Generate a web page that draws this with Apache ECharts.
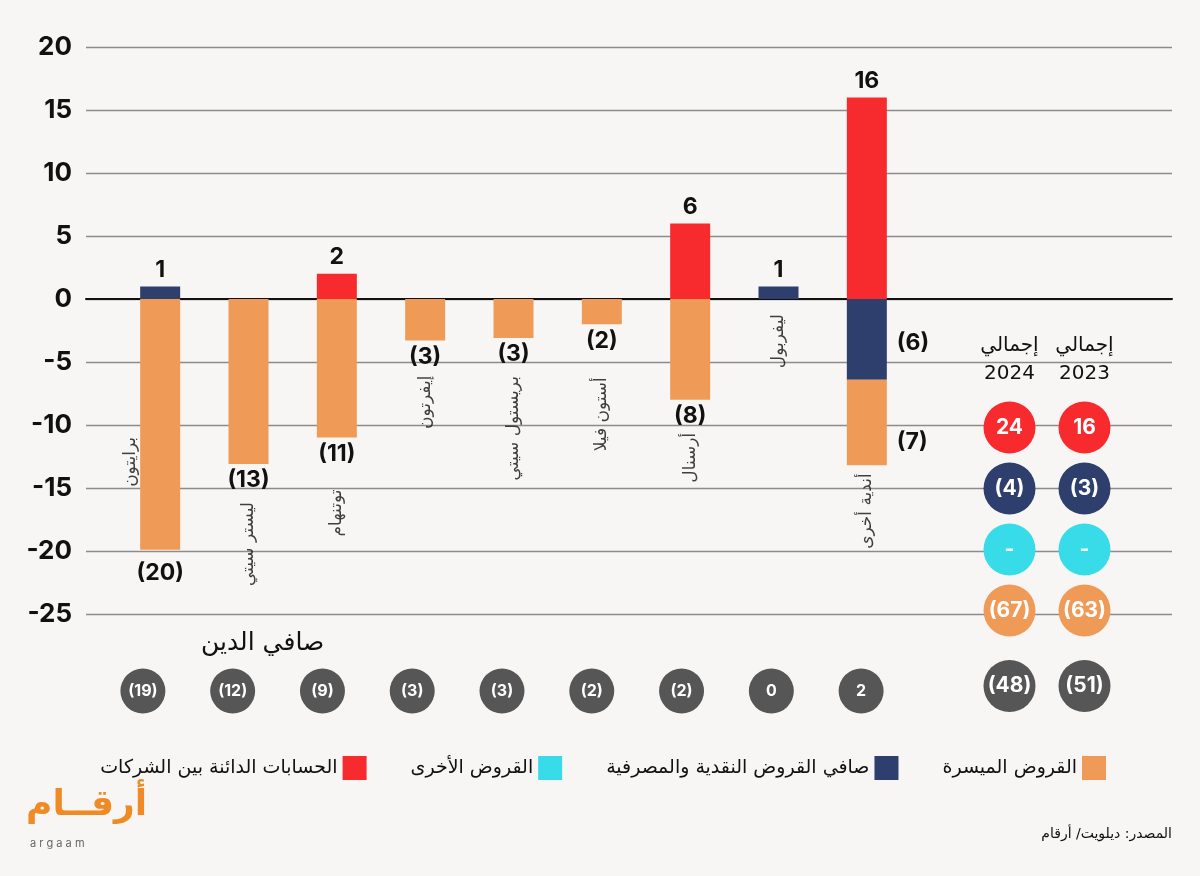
<!DOCTYPE html>
<html lang="ar">
<head>
    <meta charset="UTF-8">
    <title>Premier League clubs - debt breakdown</title>
    <script src="https://cdn.jsdelivr.net/npm/echarts@6/dist/echarts.min.js"></script>
    <style>
        html, body { margin: 0; padding: 0; background: #f8f6f4; }
        #chart { width: 1200px; height: 876px; }
    </style>
</head>
<body>
    <div id="chart"></div>
    <script>
        // clubs, left to right
        const clubs = ['برايتون', 'ليستر سيتي', 'توتنهام', 'إيفرتون', 'بريستول سيتي', 'أستون فيلا', 'أرسنال', 'ليفربول', 'أندية أخرى'];

        // values per club (null = no bar)
        const softLoans = [-19.9, -13.1, -11, -3.3, -3.1, -2, -8, null, -6.8];
        const netBankLoans = [1, null, null, null, null, null, null, 1, -6.4];
        const interCompany = [null, null, 2, null, null, null, 6, null, 16];
        const otherLoans = [null, null, null, null, null, null, null, null, null];

        // net debt row
        const netDebt = [-19, -12, -9, -3, -3, -2, -2, 0, 2];

        // totals: columns and rows (red, navy, cyan, orange)
        const totalYears = ['إجمالي\n2024', 'إجمالي\n2023'];
        const totals2024 = [24, -4, null, -67];
        const totals2023 = [16, -3, null, -63];
        const netDebtTotals = [-48, -51];

        const yTicks = { min: -25, max: 20, interval: 5 };

        const names = {
            soft: 'القروض الميسرة',
            bank: 'صافي القروض النقدية والمصرفية',
            other: 'القروض الأخرى',
            inter: 'الحسابات الدائنة بين الشركات'
        };
        const colors = {
            soft: '#f09a58',
            bank: '#2e3f6d',
            other: '#38dce8',
            inter: '#f72a2d',
            gray: '#565656'
        };

        const AR = 'DejaVu Sans';
        const NUM = 'Inter, DejaVu Sans';

        function fmt(v) {
            if (v == null) return '-';
            return v < 0 ? '(' + Math.round(-v) + ')' : String(Math.round(v));
        }

        // 数值标签在右侧的俱乐部 (أندية أخرى)
        const sideLabelIdx = 8;
        function barData(arr, sideOffset) {
            return arr.map(function (v, i) {
                if (v == null) return null;
                let pos = v > 0 ? 'top' : (i === sideLabelIdx ? 'right' : 'bottom');
                return {
                    value: v,
                    label: {
                        show: true,
                        position: pos,
                        distance: pos === 'right' ? 10 : (i === 0 && pos === 'bottom' ? 12 : 5),
                        offset: pos === 'right' ? [0, sideOffset] : [0, 0],
                        formatter: fmt(v),
                        fontFamily: NUM,
                        fontWeight: 'bold',
                        fontSize: 23,
                        color: '#111'
                    }
                };
            });
        }

        // club name labels hang below the lowest bar
        const nameGap = [30, 38, 52, 35, 38, 53, 33, 15, 8];
        const nameData = clubs.map(function (c, i) {
            let neg = 0;
            [softLoans, netBankLoans, interCompany, otherLoans].forEach(function (a) {
                if (a[i] != null && a[i] < 0) neg += a[i];
            });
            if (i === 0) {
                // Brighton: name sits to the left of the bar
                return {
                    value: [i, neg * 0.55],
                    label: { position: 'left', distance: nameGap[i] }
                };
            }
            return { value: [i, neg], label: { position: 'bottom', distance: nameGap[i] } };
        });

        function circle(v, color, size, fs) {
            return {
                value: v,
                symbolSize: size,
                itemStyle: { color: color, opacity: 1 },
                label: {
                    show: true,
                    position: 'inside',
                    formatter: fmt(v[2]),
                    color: '#fff',
                    fontFamily: NUM,
                    fontWeight: 'bold',
                    fontSize: fs
                }
            };
        }

        const rowColors = [colors.inter, colors.bank, colors.other, colors.soft];
        const totalsData = [];
        [totals2024, totals2023].forEach(function (col, c) {
            col.forEach(function (v, r) {
                totalsData.push(circle([c, r, v], rowColors[r], 52, 21));
            });
        });

        const hidden = { show: false };

        const chart = echarts.init(document.getElementById('chart'));
        chart.setOption({
            backgroundColor: '#f8f6f4',
            animation: false,
            title: {
                text: 'صافي الدين',
                left: 196,
                top: 626,
                textStyle: { fontFamily: AR, fontSize: 25, fontWeight: 'normal', color: '#111' }
            },
            legend: {
                data: [names.inter, names.other, names.bank, names.soft],
                right: 89,
                top: 751,
                align: 'right',
                itemWidth: 24,
                itemHeight: 24,
                itemGap: 44,
                icon: 'rect',
                textStyle: { fontFamily: AR, fontSize: 19, color: '#111' }
            },
            grid: [
                { left: 86, right: 28, top: 47, height: 567 },
                { left: 116, width: 795, top: 47, height: 567 },
                { left: 98, width: 808, top: 669, height: 44 },
                { left: 972, width: 150, top: 397, height: 244 },
                { left: 972, width: 150, top: 664, height: 44 }
            ],
            xAxis: [
                {
                    gridIndex: 0, type: 'value', min: 0, max: 1,
                    axisLine: { show: true, onZero: true, lineStyle: { color: '#111', width: 2 } },
                    axisTick: hidden, axisLabel: hidden, splitLine: hidden
                },
                { gridIndex: 1, type: 'category', data: clubs, show: false },
                { gridIndex: 2, type: 'category', data: clubs, show: false },
                {
                    gridIndex: 3, type: 'category', data: totalYears, position: 'top',
                    axisLine: hidden, axisTick: hidden,
                    axisLabel: { interval: 0, margin: 9, fontFamily: AR, fontSize: 20, lineHeight: 28, color: '#111' }
                },
                { gridIndex: 4, type: 'category', data: totalYears, show: false }
            ],
            yAxis: [
                {
                    gridIndex: 0, type: 'value', min: yTicks.min, max: yTicks.max, interval: yTicks.interval,
                    axisLine: hidden, axisTick: hidden,
                    axisLabel: {
                        margin: 14, fontFamily: NUM, fontWeight: 'bold', fontSize: 26, color: '#111',
                        padding: [0, 0, 18, 0]
                    },
                    splitLine: { lineStyle: { color: '#8c8c8c', width: 1.3 } }
                },
                { gridIndex: 1, type: 'value', min: yTicks.min, max: yTicks.max, show: false },
                { gridIndex: 2, type: 'value', min: 0, max: 1, show: false },
                { gridIndex: 3, type: 'category', data: [0, 1, 2, 3], inverse: true, show: false },
                { gridIndex: 4, type: 'value', min: 0, max: 1, show: false }
            ],
            series: [
                {
                    name: names.bank, type: 'bar', stack: 'club', xAxisIndex: 1, yAxisIndex: 1,
                    barWidth: 40, itemStyle: { color: colors.bank }, data: barData(netBankLoans, 4)
                },
                {
                    name: names.soft, type: 'bar', stack: 'club', xAxisIndex: 1, yAxisIndex: 1,
                    barWidth: 40, itemStyle: { color: colors.soft }, data: barData(softLoans, 20)
                },
                {
                    name: names.inter, type: 'bar', stack: 'club', xAxisIndex: 1, yAxisIndex: 1,
                    barWidth: 40, itemStyle: { color: colors.inter }, data: barData(interCompany, 0)
                },
                {
                    name: names.other, type: 'bar', stack: 'club', xAxisIndex: 1, yAxisIndex: 1,
                    barWidth: 40, itemStyle: { color: colors.other }, data: barData(otherLoans, 0)
                },
                {
                    // club names
                    type: 'scatter', xAxisIndex: 1, yAxisIndex: 1, symbolSize: 0, silent: true,
                    label: {
                        show: true, rotate: 90, align: 'right', verticalAlign: 'middle',
                        formatter: function (p) { return clubs[p.dataIndex]; },
                        fontFamily: AR, fontSize: 17, color: '#111'
                    },
                    data: nameData
                },
                {
                    // net debt per club
                    type: 'scatter', xAxisIndex: 2, yAxisIndex: 2, silent: true,
                    data: netDebt.map(function (v, i) { return circle([i, 0.5, v], colors.gray, 45, 16); })
                },
                {
                    type: 'scatter', xAxisIndex: 3, yAxisIndex: 3, silent: true,
                    data: totalsData
                },
                {
                    type: 'scatter', xAxisIndex: 4, yAxisIndex: 4, silent: true,
                    data: netDebtTotals.map(function (v, i) { return circle([i, 0.5, v], colors.gray, 52, 21); })
                }
            ],
            graphic: [
                {
                    type: 'text', left: 26, top: 788,
                    style: { text: 'أرقــام', fontFamily: AR, fontWeight: 'bold', fontSize: 36, fill: '#f08a24' }
                },
                {
                    type: 'text', left: 30, top: 838,
                    style: { text: 'a r g a a m', fontFamily: NUM, fontSize: 11, fill: '#666' }
                },
                {
                    type: 'text', right: 28, top: 827,
                    style: { text: 'المصدر: ديلويت/ أرقام', fontFamily: AR, fontSize: 14, fill: '#111' }
                }
            ]
        });
    </script>
</body>
</html>
